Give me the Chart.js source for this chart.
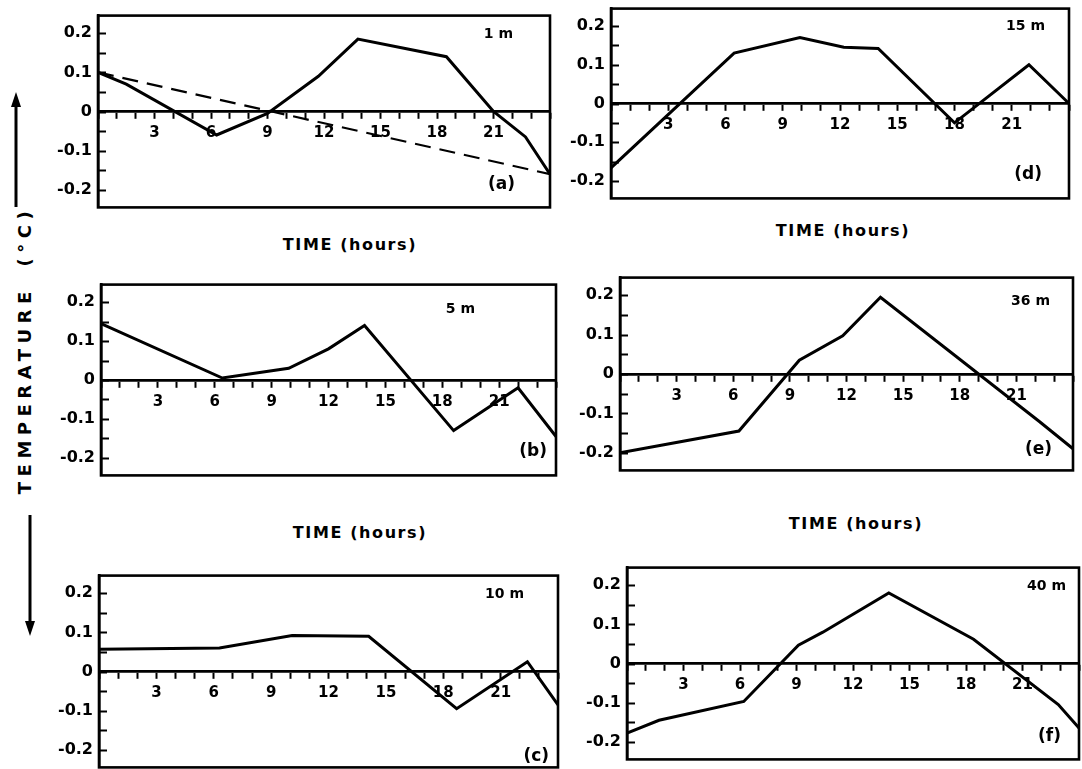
<!DOCTYPE html>
<html>
<head>
<meta charset="utf-8">
<script src="https://cdn.jsdelivr.net/npm/chart.js@4.4.1/dist/chart.umd.min.js"></script>
<style>
  html,body{margin:0;padding:0;background:#fff;}
  body{width:1082px;height:769px;overflow:hidden;position:relative;font-family:"DejaVu Sans",Arial,sans-serif;color:#000;}
  canvas.panel{position:absolute;}
  .xt{position:absolute;font-weight:bold;font-size:16px;letter-spacing:1.6px;transform:translate(-50%,-50%);white-space:nowrap;}
  .yt{position:absolute;left:24px;top:350px;font-weight:bold;font-size:18px;letter-spacing:5.5px;word-spacing:8px;white-space:nowrap;transform:translate(-50%,-50%) rotate(-90deg);}
  svg.arrows{position:absolute;left:0;top:0;}
</style>
</head>
<body>
<script>
// ---- data (hours, temperature anomaly °C) ----
const hoursA = [0, 1.5, 6.3, 9, 11.7, 13.8, 18.5, 21, 22.7, 24];
const tempA  = [0.1, 0.07, -0.06, -0.005, 0.09, 0.185, 0.14, 0, -0.065, -0.16];
const trendHoursA = [0, 24];
const trendA      = [0.1, -0.16];

const hoursB = [0, 6.4, 9.9, 12, 13.9, 18.6, 22, 24];
const tempB  = [0.145, 0.005, 0.03, 0.08, 0.14, -0.13, -0.02, -0.145];

const hoursC = [0, 6.3, 10.1, 14.1, 18.7, 22.4, 24];
const tempC  = [0.057, 0.06, 0.092, 0.09, -0.095, 0.025, -0.085];

const hoursD = [0, 6.45, 9.9, 12.2, 14, 18, 21.9, 24];
const tempD  = [-0.166, 0.13, 0.17, 0.145, 0.142, -0.05, 0.1, 0];

const hoursE = [0, 6.3, 9.5, 11.8, 13.8, 22.2, 24];
const tempE  = [-0.2, -0.145, 0.035, 0.097, 0.195, -0.12, -0.19];

const hoursF = [0, 1.7, 6.2, 9.1, 10.4, 13.9, 18.4, 22.9, 24];
const tempF  = [-0.178, -0.145, -0.097, 0.047, 0.08, 0.18, 0.062, -0.105, -0.165];

const depthLabels = ['1 m', '5 m', '10 m', '15 m', '36 m', '40 m'];
const panelLetters = ['(a)', '(b)', '(c)', '(d)', '(e)', '(f)'];
const xTickLabels = [3, 6, 9, 12, 15, 18, 21];
const yTickLabels = [0.2, 0.1, 0, -0.1, -0.2];
const xAxisTitle = 'TIME (hours)';
const yAxisTitle = 'TEMPERATURE (°C)';

// ---- layout (pixel positions of each panel frame) ----
const YW = 56, PAD = 4;
const layout = [
  {box:[98, 16, 452, 192], dl:[37,19], ll:[35,23]},   // a
  {box:[101, 285, 455, 191], dl:[81,25], ll:[9,24]},  // b
  {box:[99, 576, 459, 192], dl:[34,19], ll:[9,11]},   // c
  {box:[611, 9, 458, 190], dl:[24,18], ll:[27,24]},   // d
  {box:[620, 278, 453, 193], dl:[23,24], ll:[21,21]}, // e
  {box:[627, 568, 452, 192], dl:[13,19], ll:[18,23]}  // f
];
const series = [
  [hoursA, tempA], [hoursB, tempB], [hoursC, tempC],
  [hoursD, tempD], [hoursE, tempE], [hoursF, tempF]
];
const xTitlePos = [[350,244],[843,230],[360,532],[856,523]];

const FONT = '"DejaVu Sans", Arial, sans-serif';

const framePlugin = {
  id: 'frame',
  afterDatasetsDraw(chart, args, opts) {
    const {ctx, chartArea:{left, top, right, bottom}} = chart;
    const ys = chart.scales.y;
    ctx.save();
    ctx.strokeStyle = '#000';
    // inward tick marks on the left axis, at the y scale's own ticks
    ctx.lineWidth = 2;
    ys.ticks.forEach(t => {
      const py = Math.round(ys.getPixelForValue(t.value)) + 0.5;
      ctx.beginPath();
      ctx.moveTo(left, py);
      ctx.lineTo(left + 8, py);
      ctx.stroke();
    });
    ctx.lineWidth = 2.6;
    ctx.strokeRect(left, top, right - left, bottom - top);
    ctx.fillStyle = '#000';
    ctx.textAlign = 'right';
    ctx.textBaseline = 'middle';
    ctx.font = 'bold 14px ' + FONT;
    ctx.fillText(opts.depth, right - opts.dl[0], top + opts.dl[1]);
    ctx.font = 'bold 17px ' + FONT;
    ctx.fillText(opts.letter, right - opts.ll[0], bottom - opts.ll[1]);
    ctx.restore();
  }
};

function fmtY(v) {
  const r = Math.round(v * 100);
  if (r % 10 !== 0) return '';
  const val = r / 100;
  if (!yTickLabels.some(t => Math.abs(t - val) < 1e-9)) return '';
  return val === 0 ? '0' : val.toFixed(1);
}

function buildChart(cv, i) {
  const s = series[i];
  const L = layout[i];
  const datasets = [{
    data: s[0].map((h, k) => ({x: h, y: s[1][k]})),
    borderColor: '#000', borderWidth: 3, pointRadius: 0, tension: 0, fill: false
  }];
  if (i === 0) {
    datasets.push({
      data: trendHoursA.map((h, k) => ({x: h, y: trendA[k]})),
      borderColor: '#000', borderWidth: 2.2, borderDash: [16, 9], pointRadius: 0, tension: 0, fill: false
    });
  }
  return new Chart(cv, {
    type: 'line',
    data: {datasets},
    options: {
      responsive: false,
      animation: false,
      devicePixelRatio: 1,
      layout: {padding: {top: PAD, bottom: PAD, right: PAD, left: 0}},
      plugins: {
        legend: {display: false},
        tooltip: {enabled: false},
        frame: {depth: depthLabels[i], letter: panelLetters[i], dl: L.dl, ll: L.ll}
      },
      scales: {
        x: {
          type: 'linear', min: 0, max: 24,
          position: {y: 0},
          afterFit: sc => { sc.height = 0; },
          grid: {drawOnChartArea: false, drawTicks: true, tickLength: 6, tickWidth: 2, color: '#000'},
          border: {display: true, color: '#000', width: 2.8},
          ticks: {
            stepSize: 1, autoSkip: false, maxRotation: 0, minRotation: 0, padding: 7,
            color: '#000', font: {family: FONT, size: 15, weight: 'bold'},
            callback: v => xTickLabels.includes(v) ? String(v) : ''
          }
        },
        y: {
          type: 'linear', min: -0.245, max: 0.245,
          position: 'left',
          afterFit: sc => { sc.width = YW; },
          grid: {drawOnChartArea: false, drawTicks: false, color: '#000'},
          border: {display: true, color: '#000', width: 2.6},
          ticks: {
            stepSize: 0.05, includeBounds: false, autoSkip: false, padding: 6,
            color: '#000', font: {family: FONT, size: 16, weight: 'bold'},
            callback: v => fmtY(v)
          }
        }
      }
    },
    plugins: [framePlugin]
  });
}

series.forEach((s, i) => {
  const [bx, by, bw, bh] = layout[i].box;
  let w = YW + bw + PAD, h = bh + 2 * PAD;
  let cv, chart;
  // fit the canvas so the plot frame lands exactly on the panel box
  for (let pass = 0; pass < 3; pass++) {
    if (chart) { chart.destroy(); cv.remove(); }
    cv = document.createElement('canvas');
    cv.className = 'panel';
    cv.width = w; cv.height = h;
    document.body.appendChild(cv);
    chart = buildChart(cv, i);
    const ca = chart.chartArea;
    const cw = ca.right - ca.left, ch = ca.bottom - ca.top;
    cv.style.left = (bx - ca.left) + 'px';
    cv.style.top = (by - ca.top) + 'px';
    if (Math.abs(cw - bw) < 0.5 && Math.abs(ch - bh) < 0.5) break;
    w += (bw - cw); h += (bh - ch);
  }
});

xTitlePos.forEach(p => {
  const d = document.createElement('div');
  d.className = 'xt';
  d.style.left = p[0] + 'px';
  d.style.top = p[1] + 'px';
  d.textContent = xAxisTitle;
  document.body.appendChild(d);
});

const yt = document.createElement('div');
yt.className = 'yt';
yt.textContent = yAxisTitle;
document.body.appendChild(yt);

const NS = 'http://www.w3.org/2000/svg';
const svg = document.createElementNS(NS, 'svg');
svg.setAttribute('class', 'arrows');
svg.setAttribute('width', '60');
svg.setAttribute('height', '769');
svg.innerHTML =
  '<line x1="16" y1="207" x2="16" y2="102" stroke="#000" stroke-width="3"/>' +
  '<polygon points="16,92 11,107 21,107" fill="#000"/>' +
  '<line x1="30" y1="515" x2="30" y2="625" stroke="#000" stroke-width="3"/>' +
  '<polygon points="30,636 25,621 35,621" fill="#000"/>';
document.body.appendChild(svg);
</script>
</body>
</html>
